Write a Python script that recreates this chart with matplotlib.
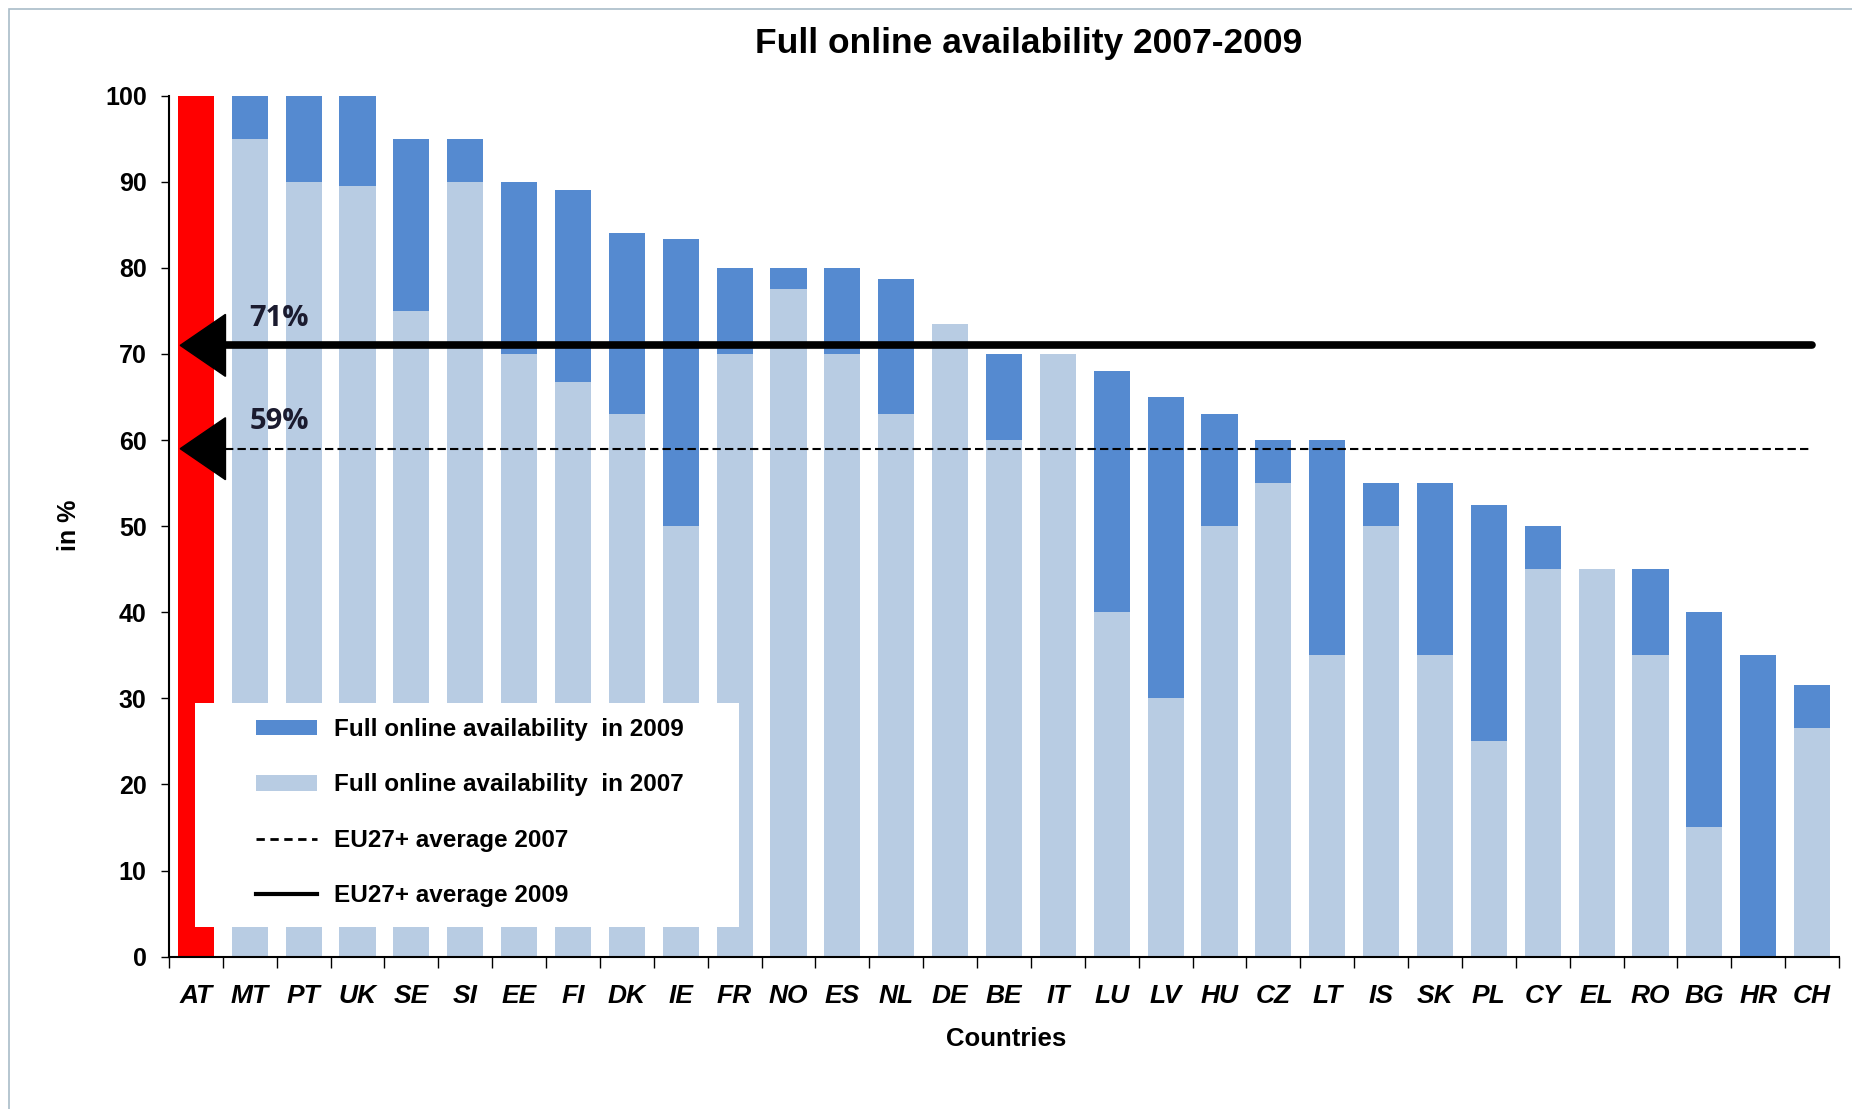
import matplotlib
matplotlib.use('Agg')
import matplotlib.pyplot as plt
import numpy as np
from matplotlib.patches import Patch, Rectangle, Polygon
from matplotlib.lines import Line2D

countries = ['AT', 'MT', 'PT', 'UK', 'SE', 'SI', 'EE', 'FI', 'DK', 'IE', 'FR',
             'NO', 'ES', 'NL', 'DE', 'BE', 'IT', 'LU', 'LV', 'HU', 'CZ', 'LT',
             'IS', 'SK', 'PL', 'CY', 'EL', 'RO', 'BG', 'HR', 'CH']
avail_2009 = [100, 100, 100, 100, 95, 95, 90, 89, 84, 83.3, 80,
              80, 80, 78.7, 73.5, 70, 70, 68, 65, 63, 60, 60,
              55, 55, 52.5, 50, 45, 45, 40, 35, 31.5]
avail_2007 = [100, 95, 90, 89.5, 75, 90, 70, 66.7, 63, 50, 70,
              77.5, 70, 63, 73.5, 60, 70, 40, 30, 50, 55, 35,
              50, 35, 25, 45, 45, 35, 15, 0, 26.5]
avg_2007 = 59
avg_2009 = 71
highlight = 'AT'

dark_blue = '#558AD0'
light_blue = '#B8CCE3'
red = '#FF0000'

plt.rcParams['font.family'] = ['Liberation Sans', 'DejaVu Sans']

fig = plt.figure(figsize=(18.52, 11.09), dpi=100)
ax = fig.add_axes([0.0912, 0.1374, 0.9018, 0.7763])

x = np.arange(len(countries))
c09 = [red if c == highlight else dark_blue for c in countries]
c07 = [red if c == highlight else light_blue for c in countries]
ax.bar(x, avail_2009, width=0.67, color=c09, zorder=2)
ax.bar(x, avail_2007, width=0.67, color=c07, zorder=2)

# average lines with arrow heads
x_end = x[-1]
for avg, lw, ls in [(avg_2009, 5.5, '-'), (avg_2007, 1.5, (0, (4, 2)))]:
    ax.plot([0.55, x_end], [avg, avg], color='black', lw=lw, ls=ls,
            solid_capstyle='round', zorder=3)
    ax.add_patch(Polygon([[-0.29, avg], [0.55, avg + 3.6], [0.55, avg - 3.6]],
                         closed=True, color='black', zorder=3))
    ax.text(1.55, avg + 3.1, f'{avg}%', family=['Open Sans', 'DejaVu Sans'],
            fontsize=21, fontweight='bold', color='#1b1b2f',
            ha='center', va='center', zorder=3)

ax.set_xlim(-0.5, len(countries) - 0.5)
ax.set_ylim(0, 100)
ax.set_yticks(np.arange(0, 101, 10))
ax.set_xticks(x)
ax.set_xticklabels(countries, fontsize=19, fontweight='bold', style='italic')
ax.set_xticks(np.arange(-0.5, len(countries), 1), minor=True)
ax.tick_params(axis='x', which='major', length=0, pad=20)
ax.tick_params(axis='x', which='minor', length=8, width=1)
ax.tick_params(axis='y', length=6, width=1, pad=10, labelsize=18)
for lab in ax.get_yticklabels():
    lab.set_fontweight('bold')
for s in ['top', 'right']:
    ax.spines[s].set_visible(False)
ax.spines['left'].set_linewidth(1.5)
ax.spines['bottom'].set_linewidth(1.5)

# legend box
ax.add_patch(Rectangle((0.0156, 0.034), 0.326, 0.261, transform=ax.transAxes,
                       facecolor='white', edgecolor='none', zorder=4))
handles = [Patch(facecolor=dark_blue), Patch(facecolor=light_blue),
           Line2D([], [], color='black', lw=2, ls=(0, (3, 2))),
           Line2D([], [], color='black', lw=3)]
labels = ['Full online availability  in 2009', 'Full online availability  in 2007',
          'EU27+ average 2007', 'EU27+ average 2009']
leg = ax.legend(handles, labels, loc='upper left', bbox_to_anchor=(0.0523, 0.277),
                frameon=False, borderpad=0, borderaxespad=0,
                handlelength=2.5, handleheight=0.6, handletextpad=0.7,
                labelspacing=1.33, prop={'weight': 'bold', 'size': 17.5})
leg.set_zorder(5)

fig.text(0.5555, 0.9606, 'Full online availability 2007-2009', ha='center',
         va='center', fontsize=25.5, fontweight='bold')
fig.text(0.037, 0.526, 'in %', rotation=90, ha='center', va='center',
         fontsize=18, fontweight='bold')
fig.text(0.5434, 0.0628, 'Countries', ha='center', va='center',
         fontsize=18.5, fontweight='bold')

fig.add_artist(Rectangle((0.0051, -0.1), 1.2, 1.0915, transform=fig.transFigure,
                         facecolor='none', edgecolor='#A9BCC8', lw=1.2))

fig.savefig('out.png', dpi=100)
